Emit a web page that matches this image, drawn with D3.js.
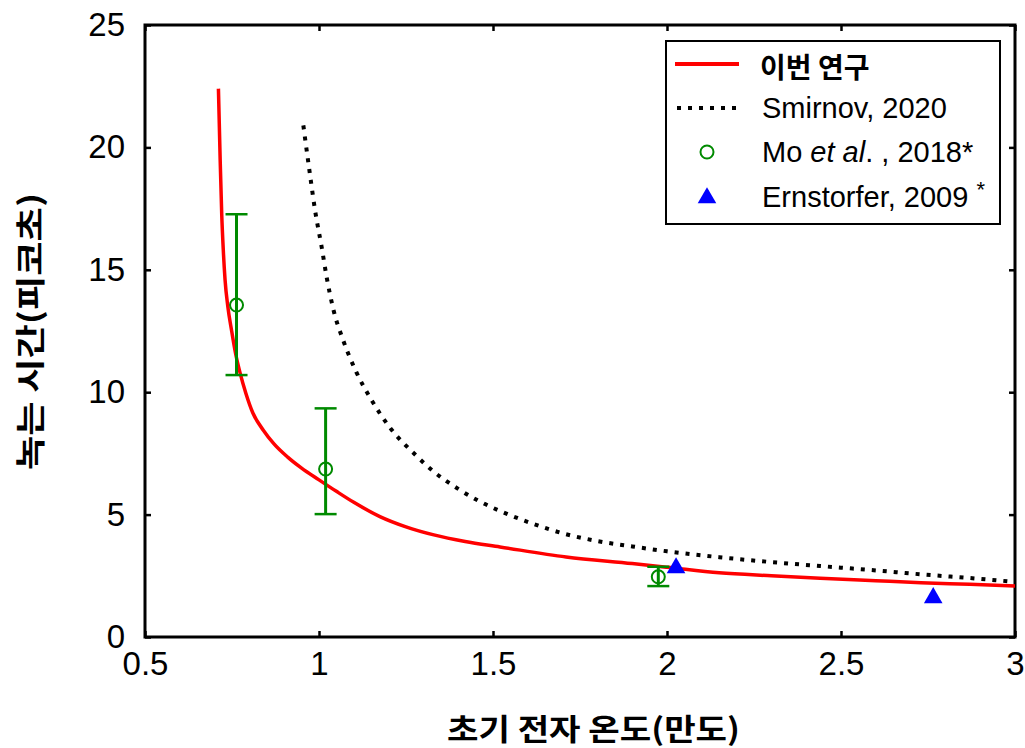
<!DOCTYPE html>
<html>
<head>
<meta charset="utf-8">
<script src="https://cdn.jsdelivr.net/npm/d3@7"></script>
<style>
  body { margin: 0; background: #fff; }
  text { font-family: "Liberation Sans", Arial, sans-serif; }
  .kr { font-family: "Noto Sans CJK KR", sans-serif; font-weight: bold; }
</style>
</head>
<body>
<div id="chart"></div>
<script>
// Red curve: this study
const thisStudyX = [0.711, 0.716, 0.7204, 0.725, 0.730, 0.738, 0.749, 0.760, 0.773, 0.79, 0.81, 0.84, 0.87, 0.91, 0.95, 1.0, 1.05, 1.10, 1.175, 1.25, 1.33, 1.42, 1.52, 1.71, 1.90, 2.0, 2.15, 2.30, 2.44, 2.60, 2.73, 2.87, 3.0];
const thisStudyY = [22.4, 19.5, 17.3, 15.8, 14.6, 13.5, 12.5, 11.6, 10.8, 9.95, 9.15, 8.45, 7.9, 7.35, 6.9, 6.42, 5.95, 5.5, 4.92, 4.5, 4.17, 3.9, 3.68, 3.27, 3.0, 2.85, 2.62, 2.50, 2.40, 2.30, 2.22, 2.15, 2.08];

// Dotted curve: Smirnov, 2020
const smirnovX = [0.955, 0.974, 0.989, 1.008, 1.022, 1.041, 1.070, 1.108, 1.15, 1.204, 1.28, 1.33, 1.40, 1.46, 1.52, 1.61, 1.71, 1.80, 1.90, 2.0, 2.15, 2.30, 2.44, 2.60, 2.73, 2.87, 3.0];
const smirnovY = [20.9, 18.9, 17.4, 15.9, 14.7, 13.4, 12.1, 10.8, 9.7, 8.55, 7.4, 6.75, 6.05, 5.55, 5.15, 4.65, 4.2, 3.92, 3.7, 3.5, 3.26, 3.06, 2.9, 2.72, 2.56, 2.41, 2.25];

// Mo et al., 2018 with error bars
const moX = [0.763, 1.019, 1.975];
const moY = [13.56, 6.86, 2.46];
const moLow = [10.70, 5.02, 2.08];
const moHigh = [17.27, 9.34, 2.87];

// Ernstorfer, 2009
const ernX = [2.026, 2.765];
const ernY = [2.82, 1.6];

const xTicks = [0.5, 1, 1.5, 2, 2.5, 3];
const yTicks = [0, 5, 10, 15, 20, 25];

const width = 1025, height = 748;
const margin = { top: 25, right: 10, bottom: 111, left: 145 };

const svg = d3.select("#chart").append("svg")
  .attr("width", width)
  .attr("height", height);

const x = d3.scaleLinear().domain([0.5, 3]).range([margin.left, width - margin.right]);
const y = d3.scaleLinear().domain([0, 25]).range([height - margin.bottom, margin.top]);

const fmt = d => String(d);

// axes with inward ticks on all four sides
svg.append("g")
  .attr("transform", `translate(0,${y(0)})`)
  .call(d3.axisBottom(x).tickValues(xTicks).tickSize(-6).tickPadding(15).tickFormat(fmt))
  .call(g => g.select(".domain").remove())
  .call(g => g.selectAll("text").attr("font-size", 33).attr("fill", "#000").attr("font-family", "Liberation Sans, Arial"));

svg.append("g")
  .attr("transform", `translate(0,${y(25)})`)
  .call(d3.axisTop(x).tickValues(xTicks).tickSize(-6).tickFormat(""))
  .call(g => g.select(".domain").remove());

svg.append("g")
  .attr("transform", `translate(${x(0.5)},0)`)
  .call(d3.axisLeft(y).tickValues(yTicks).tickSize(-6).tickPadding(20).tickFormat(fmt))
  .call(g => g.select(".domain").remove())
  .call(g => g.selectAll("text").attr("font-size", 33).attr("fill", "#000").attr("font-family", "Liberation Sans, Arial"));

svg.append("g")
  .attr("transform", `translate(${x(3)},0)`)
  .call(d3.axisRight(y).tickValues(yTicks).tickSize(-6).tickFormat(""))
  .call(g => g.select(".domain").remove());

svg.selectAll(".tick line").attr("stroke", "#000").attr("stroke-width", 2.5);

svg.append("rect")
  .attr("x", x(0.5)).attr("y", y(25))
  .attr("width", x(3) - x(0.5)).attr("height", y(0) - y(25))
  .attr("fill", "none").attr("stroke", "#000").attr("stroke-width", 3);

// axis titles
svg.append("text")
  .attr("class", "kr")
  .attr("x", 447)
  .attr("y", 740)
  .attr("font-size", 30)
  .attr("textLength", 293)
  .attr("lengthAdjust", "spacingAndGlyphs")
  .text("초기 전자 온도(만도)");

svg.append("text")
  .attr("class", "kr")
  .attr("transform", `translate(41,470) rotate(-90)`)
  .attr("font-size", 30)
  .attr("textLength", 277)
  .attr("lengthAdjust", "spacingAndGlyphs")
  .text("녹는 시간(피코초)");

const line = d3.line().x(d => x(d[0])).y(d => y(d[1])).curve(d3.curveMonotoneX);

svg.append("path")
  .datum(d3.zip(smirnovX, smirnovY))
  .attr("d", line)
  .attr("fill", "none")
  .attr("stroke", "#000")
  .attr("stroke-width", 4)
  .attr("stroke-dasharray", "4,7");

svg.append("path")
  .datum(d3.zip(thisStudyX, thisStudyY))
  .attr("d", line)
  .attr("fill", "none")
  .attr("stroke", "#ff0000")
  .attr("stroke-width", 3.5);

// Mo et al. error bars and circles
const green = "#008a00";
const mo = moX.map((v, i) => ({ x: v, y: moY[i], lo: moLow[i], hi: moHigh[i] }));
const moG = svg.append("g");
moG.selectAll(".eb").data(mo).join("line")
  .attr("x1", d => x(d.x)).attr("x2", d => x(d.x))
  .attr("y1", d => y(d.lo)).attr("y2", d => y(d.hi))
  .attr("stroke", green).attr("stroke-width", 3);
moG.selectAll(".capTop").data(mo).join("line")
  .attr("x1", d => x(d.x) - 11).attr("x2", d => x(d.x) + 11)
  .attr("y1", d => y(d.hi)).attr("y2", d => y(d.hi))
  .attr("stroke", green).attr("stroke-width", 2.5);
moG.selectAll(".capBot").data(mo).join("line")
  .attr("x1", d => x(d.x) - 11).attr("x2", d => x(d.x) + 11)
  .attr("y1", d => y(d.lo)).attr("y2", d => y(d.lo))
  .attr("stroke", green).attr("stroke-width", 2.5);
moG.selectAll("circle").data(mo).join("circle")
  .attr("cx", d => x(d.x)).attr("cy", d => y(d.y)).attr("r", 6.5)
  .attr("fill", "none").attr("stroke", green).attr("stroke-width", 2);

// Ernstorfer triangles
const tri = d3.symbol().type(d3.symbolTriangle).size(150);
svg.selectAll(".ern").data(d3.zip(ernX, ernY)).join("path")
  .attr("transform", d => `translate(${x(d[0])},${y(d[1])})`)
  .attr("d", tri)
  .attr("fill", "#0000ff");

// legend
const lg = svg.append("g");
lg.append("rect")
  .attr("x", 666).attr("y", 41).attr("width", 334).attr("height", 183)
  .attr("fill", "#fff").attr("stroke", "#000").attr("stroke-width", 2);

lg.append("line").attr("x1", 675).attr("x2", 739).attr("y1", 64).attr("y2", 64)
  .attr("stroke", "#ff0000").attr("stroke-width", 4);
lg.append("text").attr("class", "kr").attr("x", 760).attr("y", 78)
  .attr("font-size", 28).text("이번 연구");

lg.append("line").attr("x1", 677).attr("x2", 740).attr("y1", 108).attr("y2", 108)
  .attr("stroke", "#000").attr("stroke-width", 4).attr("stroke-dasharray", "4,7");
lg.append("text").attr("x", 762).attr("y", 118)
  .attr("font-size", 29).text("Smirnov, 2020");

lg.append("circle").attr("cx", 707).attr("cy", 152).attr("r", 6.5)
  .attr("fill", "none").attr("stroke", green).attr("stroke-width", 2);
const moText = lg.append("text").attr("x", 762).attr("y", 162).attr("font-size", 29);
moText.append("tspan").text("Mo ");
moText.append("tspan").attr("font-style", "italic").text("et al");
moText.append("tspan").text(". , 2018*");

lg.append("path").attr("transform", "translate(707,198)").attr("d", tri).attr("fill", "#0000ff");
const ernText = lg.append("text").attr("x", 762).attr("y", 207).attr("font-size", 29);
ernText.append("tspan").text("Ernstorfer, 2009 ");
ernText.append("tspan").attr("dy", -10).attr("font-size", 22).text("*");
</script>
</body>
</html>
